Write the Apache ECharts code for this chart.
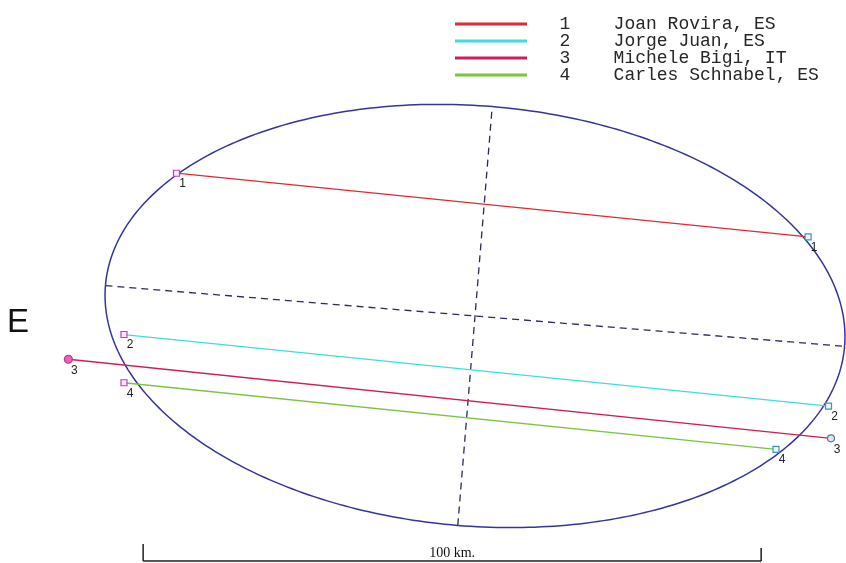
<!DOCTYPE html>
<html>
<head>
<meta charset="utf-8">
<script src="https://cdn.jsdelivr.net/npm/echarts@6/dist/echarts.min.js"></script>
<style>
  html, body { margin: 0; padding: 0; background: #ffffff; }
  #chart { width: 846px; height: 563px; }
</style>
</head>
<body>
<div id="chart"></div>
<script>
// Occultation chords across the asteroid profile (km, origin at the ellipse centre, north up).
const chordIds = ['1', '2', '3', '4'];
const observers = ['Joan Rovira, ES', 'Jorge Juan, ES', 'Michele Bigi, IT', 'Carles Schnabel, ES'];
const chordStart = [[-48.3, 23.1], [-56.8, -3.0], [-65.8, -7.0], [-56.8, -10.8]];
const chordEnd = [[53.9, 12.8], [57.2, -14.6], [57.6, -19.8], [48.7, -21.6]];

// Fitted profile: centre (km), semi-axes (km), tilt of the major axis (deg)
const ellipseCenter = [0, 0];
const ellipseSemiAxes = [60, 34];
const ellipseTilt = -4.7;

// Scale bar
const scaleBarStart = [-53.7, -39.64];
const scaleBarLength = 100;
const scaleBarLabel = '100 km.';

// Visible window of the plot (km)
const xRange = [-76.86, 60.03];
const yRange = [-39.97, 51.13];

// ---- styles ----
const chordColors = ['#de2a33', '#3edcdf', '#cf1f52', '#7cc440'];
const startMarks = [
  { symbol: 'rect', size: 6, fill: '#fbe9fb', stroke: '#c040c0' },
  { symbol: 'rect', size: 6, fill: '#fbe9fb', stroke: '#c040c0' },
  { symbol: 'circle', size: 8, fill: '#e462b9', stroke: '#c23592' },
  { symbol: 'rect', size: 6, fill: '#fbe9fb', stroke: '#c040c0' }
];
const endMarks = [
  { symbol: 'rect', size: 6, fill: '#e9f7fa', stroke: '#3f95b0' },
  { symbol: 'rect', size: 6, fill: '#e9f7fa', stroke: '#3f95b0' },
  { symbol: 'circle', size: 7, fill: '#dfe6ee', stroke: '#5a7890' },
  { symbol: 'rect', size: 6, fill: '#e9f7fa', stroke: '#3f95b0' }
];

const chart = echarts.init(document.getElementById('chart'), null, { renderer: 'canvas' });

const rad = ellipseTilt * Math.PI / 180;
const cosT = Math.cos(rad), sinT = Math.sin(rad);
const [cx, cy] = ellipseCenter;
const [ea, eb] = ellipseSemiAxes;
const majorAxis = [[cx - ea * cosT, cy - ea * sinT], [cx + ea * cosT, cy + ea * sinT]];
const minorAxis = [[cx + eb * sinT, cy - eb * cosT], [cx - eb * sinT, cy + eb * cosT]];

function endpointItem(point, mark, id) {
  return {
    value: point,
    symbol: mark.symbol,
    symbolSize: mark.size,
    itemStyle: { color: mark.fill, borderColor: mark.stroke, borderWidth: 1.2 },
    label: {
      show: true,
      position: 'bottom',
      distance: 1,
      offset: [6, 0],
      formatter: id,
      fontFamily: 'Liberation Sans',
      fontSize: 12,
      color: '#222222'
    }
  };
}

const chordSeries = chordIds.map((id, i) => ({
  name: observers[i],
  type: 'line',
  z: 5,
  color: chordColors[i],
  lineStyle: { color: chordColors[i], width: 1.3 },
  showSymbol: true,
  data: [endpointItem(chordStart[i], startMarks[i], id), endpointItem(chordEnd[i], endMarks[i], id)]
}));

const axisLine = (name, pts) => ({
  name: name,
  type: 'line',
  symbol: 'none',
  z: 2,
  lineStyle: { color: '#2b2b58', width: 1.3, type: [7, 5] },
  data: pts
});

const option = {
  animation: false,
  backgroundColor: '#ffffff',
  grid: { left: 0, right: 0, top: 0, bottom: 0, containLabel: false },
  xAxis: { type: 'value', min: xRange[0], max: xRange[1], show: false },
  yAxis: { type: 'value', min: yRange[0], max: yRange[1], show: false },
  legend: {
    data: observers,
    orient: 'vertical',
    left: 455,
    top: 15,
    padding: 0,
    itemGap: -1,
    itemWidth: 72,
    itemHeight: 3,
    icon: 'rect',
    selectedMode: false,
    formatter: name => '  ' + chordIds[observers.indexOf(name)] + '    ' + name,
    textStyle: {
      fontFamily: 'Liberation Mono',
      fontSize: 18,
      lineHeight: 17,
      color: '#262626',
      padding: [0, 0, 0, 6]
    }
  },
  graphic: [
    {
      type: 'text',
      x: 18,
      y: 323,
      style: {
        text: 'E',
        font: '33px "Liberation Sans"',
        fill: '#111111',
        textAlign: 'center',
        textVerticalAlign: 'middle'
      }
    }
  ],
  series: [
    {
      name: 'profile',
      type: 'custom',
      z: 3,
      data: [[cx, cy, ea, eb, ellipseTilt]],
      renderItem: function (params, api) {
        const c = [api.value(0), api.value(1)];
        const a = api.value(2), b = api.value(3);
        const t = api.value(4) * Math.PI / 180;
        const pts = [];
        for (let k = 0; k < 360; k++) {
          const u = k * Math.PI / 180;
          const ex = a * Math.cos(u), ey = b * Math.sin(u);
          pts.push(api.coord([c[0] + ex * Math.cos(t) - ey * Math.sin(t), c[1] + ex * Math.sin(t) + ey * Math.cos(t)]));
        }
        return {
          type: 'polygon',
          shape: { points: pts },
          style: { fill: 'none', stroke: '#34349c', lineWidth: 1.5 }
        };
      }
    },
    axisLine('major axis', majorAxis),
    axisLine('minor axis', minorAxis),
    ...chordSeries,
    {
      name: 'scale bar',
      type: 'custom',
      z: 4,
      data: [[scaleBarStart[0], scaleBarStart[1], scaleBarLength]],
      renderItem: function (params, api) {
        const x0 = api.value(0), y0 = api.value(1), len = api.value(2);
        const p0 = api.coord([x0, y0]);
        const p1 = api.coord([x0 + len, y0]);
        const pm = api.coord([x0 + len / 2, y0]);
        const lineStyle = { stroke: '#1e1e1e', lineWidth: 1.5 };
        return {
          type: 'group',
          children: [
            { type: 'line', shape: { x1: p0[0], y1: p0[1], x2: p1[0], y2: p1[1] }, style: lineStyle },
            { type: 'line', shape: { x1: p0[0], y1: p0[1], x2: p0[0], y2: p0[1] - 17 }, style: lineStyle },
            { type: 'line', shape: { x1: p1[0], y1: p1[1], x2: p1[0], y2: p1[1] - 13 }, style: lineStyle },
            {
              type: 'text',
              x: pm[0],
              y: pm[1] - 8,
              style: {
                text: scaleBarLabel,
                font: '14px "Liberation Serif"',
                fill: '#111111',
                textAlign: 'center',
                textVerticalAlign: 'middle'
              }
            }
          ]
        };
      }
    }
  ]
};

chart.setOption(option);
</script>
</body>
</html>
